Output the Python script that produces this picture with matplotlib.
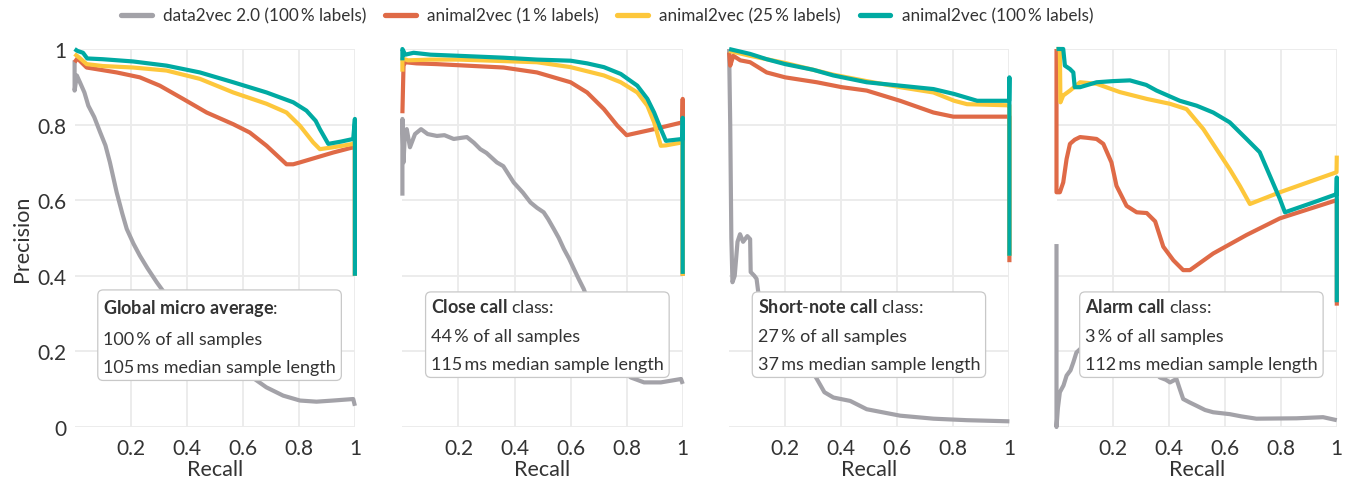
import matplotlib
matplotlib.use("Agg")
import matplotlib.pyplot as plt
from matplotlib.lines import Line2D

FONT = "Lato"
plt.rcParams["font.family"] = [FONT, "DejaVu Sans"]
plt.rcParams["mathtext.fontset"] = "custom"
plt.rcParams["mathtext.rm"] = FONT
plt.rcParams["mathtext.bf"] = FONT + ":bold"
plt.rcParams["mathtext.it"] = FONT + ":italic"

# ---------------- data ----------------
series_labels = ["data2vec 2.0 (100\u2009% labels)", "animal2vec (1\u2009% labels)",
                 "animal2vec (25\u2009% labels)", "animal2vec (100\u2009% labels)"]
series_colors = ["#a3a2a8", "#df6a47", "#fdc73b", "#00aaa2"]

panel_titles = [r"$\mathbf{Global\ micro\ average}$:", r"$\mathbf{Close\ call}$ class:",
                r"$\mathbf{Short\text{-}note\ call}$ class:", r"$\mathbf{Alarm\ call}$ class:"]
panel_share = ["100\u2009% of all samples", "44\u2009% of all samples",
               "27\u2009% of all samples", "3\u2009% of all samples"]
panel_length = ["105\u2009ms median sample length", "115\u2009ms median sample length",
                "37\u2009ms median sample length", "112\u2009ms median sample length"]

x_ticks = [0.2, 0.4, 0.6, 0.8, 1.0]
x_ticklabels = ["0.2", "0.4", "0.6", "0.8", "1"]
y_ticks = [0, 0.2, 0.4, 0.6, 0.8, 1.0]
y_ticklabels = ["0", "0.2", "0.4", "0.6", "0.8", "1"]

# Panel 1: global micro average
gray1_x = [0.0, 0.0, 0.008, 0.019, 0.035, 0.049, 0.07, 0.091, 0.11, 0.126, 0.15, 0.17, 0.186, 0.21, 0.233,
           0.26, 0.293, 0.328, 0.37, 0.42, 0.47, 0.52, 0.57, 0.625, 0.684, 0.744, 0.804, 0.863, 0.922, 0.994, 1.0]
gray1_y = [0.97, 0.89, 0.93, 0.912, 0.885, 0.85, 0.82, 0.78, 0.745, 0.70, 0.621, 0.565, 0.524, 0.485, 0.453,
           0.42, 0.383, 0.347, 0.305, 0.26, 0.22, 0.185, 0.158, 0.136, 0.105, 0.083, 0.070, 0.067, 0.070, 0.074, 0.056]
orange1_x = [0.0, 0.01, 0.043, 0.15, 0.233, 0.304, 0.387, 0.471, 0.566, 0.625, 0.685, 0.756, 0.78, 0.804,
             0.922, 0.994, 1.0, 1.0]
orange1_y = [0.965, 0.975, 0.951, 0.938, 0.925, 0.903, 0.868, 0.832, 0.801, 0.779, 0.744, 0.695, 0.695, 0.700,
             0.726, 0.740, 0.745, 0.40]
yellow1_x = [0.0, 0.02, 0.043, 0.1, 0.209, 0.328, 0.447, 0.566, 0.685, 0.756, 0.804, 0.851, 0.875, 0.922,
             0.994, 1.0, 1.0]
yellow1_y = [0.987, 0.975, 0.960, 0.955, 0.951, 0.943, 0.921, 0.885, 0.855, 0.832, 0.797, 0.753, 0.735, 0.740,
             0.749, 0.755, 0.40]
teal1_x = [0.0, 0.01, 0.03, 0.045, 0.1, 0.209, 0.328, 0.447, 0.566, 0.685, 0.78, 0.827, 0.86, 0.875, 0.905,
           0.95, 0.994, 1.0, 1.0]
teal1_y = [1.0, 0.995, 0.99, 0.975, 0.973, 0.967, 0.956, 0.938, 0.912, 0.885, 0.859, 0.837, 0.81, 0.788, 0.749,
           0.755, 0.762, 0.815, 0.40]

# Panel 2: close call
gray2_x = [0.0, 0.0, 0.004, 0.008, 0.0155, 0.027, 0.045, 0.0665, 0.09, 0.123, 0.15, 0.183, 0.21, 0.230, 0.255,
           0.278, 0.30, 0.337, 0.36, 0.397, 0.43, 0.457, 0.48, 0.504, 0.52, 0.540, 0.558, 0.576, 0.595, 0.612,
           0.63, 0.647, 0.70, 0.75, 0.80, 0.815, 0.862, 0.922, 0.994, 1.0]
gray2_y = [0.612, 0.815, 0.70, 0.762, 0.788, 0.740, 0.775, 0.788, 0.775, 0.770, 0.772, 0.762, 0.765, 0.767,
           0.752, 0.735, 0.725, 0.700, 0.69, 0.647, 0.62, 0.594, 0.58, 0.568, 0.55, 0.524, 0.50, 0.471, 0.445,
           0.418, 0.39, 0.365, 0.26, 0.18, 0.14, 0.131, 0.118, 0.118, 0.127, 0.114]
orange2_x = [0.0, 0.004, 0.01, 0.05, 0.123, 0.361, 0.48, 0.6, 0.659, 0.719, 0.767, 0.8, 0.898, 0.999, 1.0, 1.0]
orange2_y = [0.83, 0.956, 0.965, 0.962, 0.960, 0.951, 0.938, 0.912, 0.885, 0.841, 0.797, 0.772, 0.788, 0.806,
             0.868, 0.40]
yellow2_x = [0.0, 0.0, 0.02, 0.1, 0.2, 0.361, 0.48, 0.6, 0.719, 0.779, 0.838, 0.874, 0.898, 0.922, 0.94,
             0.999, 1.0, 1.0]
yellow2_y = [0.94, 0.975, 0.97, 0.972, 0.972, 0.968, 0.965, 0.952, 0.930, 0.912, 0.885, 0.850, 0.806, 0.744,
             0.745, 0.753, 0.753, 0.40]
teal2_x = [0.0, 0.0, 0.01, 0.04, 0.1, 0.2, 0.361, 0.48, 0.6, 0.659, 0.719, 0.779, 0.838, 0.874, 0.898, 0.922,
           0.94, 0.999, 1.0, 1.0]
teal2_y = [0.97, 1.0, 0.985, 0.99, 0.985, 0.982, 0.977, 0.972, 0.969, 0.962, 0.952, 0.934, 0.903, 0.868, 0.832,
           0.788, 0.757, 0.762, 0.818, 0.405]

# Panel 3: short-note call
gray3_x = [0.0, 0.004, 0.008, 0.012, 0.02, 0.03, 0.039, 0.05, 0.065, 0.075, 0.077, 0.09, 0.098, 0.104, 0.15,
           0.2, 0.25, 0.31, 0.34, 0.372, 0.432, 0.491, 0.61, 0.729, 0.849, 1.0]
gray3_y = [1.0, 0.80, 0.50, 0.383, 0.40, 0.49, 0.51, 0.49, 0.505, 0.497, 0.41, 0.40, 0.392, 0.357, 0.30, 0.24,
           0.185, 0.131, 0.092, 0.078, 0.069, 0.047, 0.030, 0.022, 0.018, 0.015]
orange3_x = [0.0, 0.004, 0.015, 0.04, 0.075, 0.134, 0.2, 0.313, 0.402, 0.491, 0.61, 0.729, 0.8, 0.999, 1.0, 1.0]
orange3_y = [0.991, 0.956, 0.982, 0.97, 0.965, 0.938, 0.925, 0.912, 0.899, 0.890, 0.863, 0.832, 0.821, 0.821,
             0.821, 0.436]
yellow3_x = [0.0, 0.075, 0.2, 0.3, 0.372, 0.491, 0.61, 0.729, 0.803, 0.849, 0.999, 1.0, 1.0]
yellow3_y = [0.995, 0.982, 0.963, 0.945, 0.932, 0.915, 0.899, 0.885, 0.863, 0.854, 0.851, 0.851, 0.453]
teal3_x = [0.0, 0.075, 0.134, 0.2, 0.3, 0.372, 0.491, 0.61, 0.729, 0.803, 0.885, 0.999, 1.0, 1.0]
teal3_y = [1.0, 0.987, 0.973, 0.960, 0.945, 0.930, 0.912, 0.903, 0.894, 0.881, 0.863, 0.863, 0.925, 0.453]

# Panel 4: alarm call
gray4_x = [0.0, 0.0, 0.005, 0.012, 0.025, 0.036, 0.05, 0.06, 0.071, 0.09, 0.15, 0.25, 0.33, 0.369, 0.39,
           0.405, 0.428, 0.44, 0.452, 0.475, 0.5, 0.53, 0.559, 0.618, 0.66, 0.713, 0.856, 0.951, 1.0]
gray4_y = [0.484, 0.0, 0.05, 0.092, 0.11, 0.136, 0.15, 0.171, 0.197, 0.21, 0.225, 0.20, 0.16, 0.131, 0.125,
           0.118, 0.127, 0.10, 0.074, 0.065, 0.056, 0.045, 0.039, 0.034, 0.028, 0.022, 0.023, 0.026, 0.018]
orange4_x = [0.0, 0.0, 0.012, 0.024, 0.036, 0.048, 0.065, 0.084, 0.11, 0.143, 0.167, 0.196, 0.214, 0.25,
             0.286, 0.322, 0.352, 0.381, 0.417, 0.452, 0.476, 0.559, 0.678, 0.797, 0.999, 1.0, 1.0]
orange4_y = [1.0, 0.621, 0.621, 0.647, 0.709, 0.749, 0.76, 0.767, 0.765, 0.762, 0.749, 0.700, 0.638, 0.585,
             0.568, 0.566, 0.544, 0.477, 0.441, 0.415, 0.415, 0.459, 0.508, 0.552, 0.600, 0.600, 0.321]
yellow4_x = [0.0, 0.012, 0.014, 0.024, 0.048, 0.084, 0.143, 0.226, 0.322, 0.405, 0.464, 0.524, 0.571, 0.618,
             0.654, 0.690, 0.797, 0.999, 1.0]
yellow4_y = [1.0, 1.0, 0.859, 0.877, 0.890, 0.912, 0.908, 0.886, 0.868, 0.855, 0.841, 0.788, 0.735, 0.682,
             0.638, 0.590, 0.621, 0.674, 0.718]
teal4_x = [0.0, 0.024, 0.03, 0.048, 0.06, 0.065, 0.084, 0.143, 0.2, 0.262, 0.32, 0.357, 0.44, 0.5, 0.559,
           0.618, 0.678, 0.725, 0.761, 0.797, 0.815, 0.916, 0.999, 1.0, 1.0]
teal4_y = [1.0, 1.0, 0.956, 0.947, 0.938, 0.899, 0.899, 0.912, 0.915, 0.917, 0.905, 0.890, 0.863, 0.85, 0.832,
           0.806, 0.762, 0.727, 0.665, 0.603, 0.568, 0.594, 0.616, 0.660, 0.330]

panels = [
    [(gray1_x, gray1_y), (orange1_x, orange1_y), (yellow1_x, yellow1_y), (teal1_x, teal1_y)],
    [(gray2_x, gray2_y), (orange2_x, orange2_y), (yellow2_x, yellow2_y), (teal2_x, teal2_y)],
    [(gray3_x, gray3_y), (orange3_x, orange3_y), (yellow3_x, yellow3_y), (teal3_x, teal3_y)],
    [(gray4_x, gray4_y), (orange4_x, orange4_y), (yellow4_x, yellow4_y), (teal4_x, teal4_y)],
]

# ---------------- figure ----------------
W, H = 1352, 481
fig = plt.figure(figsize=(W / 100, H / 100), dpi=100)
left_px = [74.6, 402.4, 729.1, 1056.5]
ax_w_px = 280.3
top_px, bot_px = 50, 428

text_color = "#333333"
grid_color = "#ebebeb"

for i, series in enumerate(panels):
    ax = fig.add_axes([left_px[i] / W, (H - bot_px) / H, ax_w_px / W, (bot_px - top_px) / H])
    ax.set_xlim(0, 1)
    ax.set_ylim(0, 1)
    for s in ax.spines.values():
        s.set_visible(False)
    ax.set_xticks(x_ticks)
    ax.set_xticklabels(x_ticklabels)
    ax.set_yticks(y_ticks)
    if i == 0:
        ax.set_yticklabels(y_ticklabels)
        ax.set_ylabel("Precision", fontsize=15.5, color=text_color, labelpad=4)
    else:
        ax.set_yticklabels([])
    ax.tick_params(length=0, labelsize=15, colors=text_color, pad=6)
    ax.tick_params(axis="x", pad=8)
    ax.grid(True, color=grid_color, lw=1.3, zorder=0)
    ax.set_axisbelow(True)
    ax.set_xlabel("Recall", fontsize=15.5, color=text_color, labelpad=1)
    for (xs, ys), c in zip(series, series_colors):
        ax.plot(xs, ys, color=c, lw=3.0, solid_joinstyle="round", solid_capstyle="butt",
                clip_on=False, zorder=3)
    txt = panel_titles[i] + "\n" + panel_share[i] + "\n" + panel_length[i]
    ax.text(0.102, 0.343, txt, transform=ax.transData, ha="left", va="top", fontsize=13,
            color=text_color, linespacing=1.95, zorder=10,
            bbox=dict(boxstyle="round,pad=0.3,rounding_size=0.3", fc="white", ec="#c8c8c8", lw=0.9))

handles = [Line2D([0], [0], color=c, lw=3.8, solid_capstyle="round") for c in series_colors]
fig.legend(handles, series_labels, loc="center", bbox_to_anchor=(0.449, 0.965), ncol=4, frameon=False,
           fontsize=12.3, handlelength=1.8, handletextpad=0.65, columnspacing=1.1, labelcolor=text_color)

fig.savefig("out.png", dpi=100)
